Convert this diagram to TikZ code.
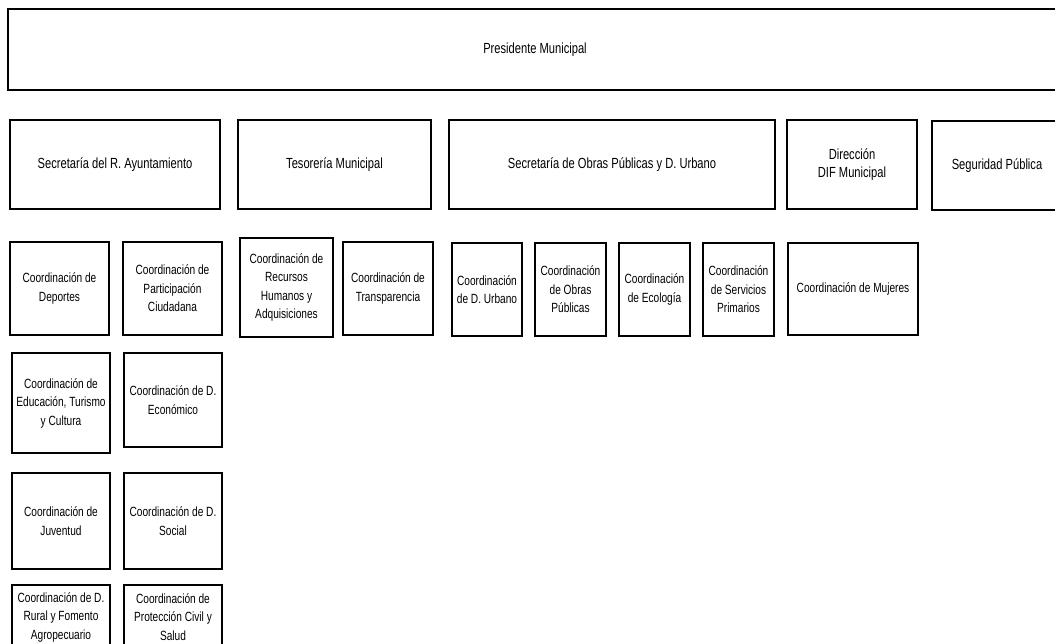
\documentclass[tikz,border=0pt]{standalone}
\usepackage{fontspec}
\setmainfont{Liberation Sans}[FakeStretch=0.76]
\begin{document}
\begin{tikzpicture}[x=0.75pt,y=-0.75pt]
\tikzset{box/.style={draw, line width=0.9pt, align=center, inner sep=0pt, outer sep=0pt,
  font=\fontsize{10}{13.9}\selectfont},
  bigbox/.style={box, font=\fontsize{11}{13.6}\selectfont}}
\newcommand\mybox[7][box]{\node[#1, minimum width={(#5-#3)*0.75pt}, minimum height={(#6-#4)*0.75pt}]
  (#2) at ({(#3+#5)/2},{(#4+#6)/2}) {#7};}
\useasboundingbox[fill=white] (0,0) rectangle (1055,643);
% top
\mybox[bigbox]{pres}{8}{9}{1062}{90}{Presidente Municipal}
% row 2
\mybox[bigbox]{sec}{10}{120}{220}{209}{Secretaría del R. Ayuntamiento}
\mybox[bigbox]{tes}{238}{120}{431}{209}{Tesorería Municipal}
\mybox[bigbox]{obr}{449}{120}{775}{209}{Secretaría de Obras Públicas y D. Urbano}
\mybox[bigbox]{dif}{787}{120}{917}{209}{Dirección\\DIF Municipal}
\mybox[bigbox]{seg}{932}{121}{1062}{210}{Seguridad Pública}
% row 3
\mybox{dep}{10}{242}{109}{335}{Coordinación de\\Deportes}
\mybox{par}{123}{242}{222}{335}{Coordinación de\\Participación\\Ciudadana}
\mybox{rec}{240}{238}{333}{337}{Coordinación de\\Recursos\\Humanos y\\Adquisiciones}
\mybox{tra}{343}{242}{433}{335}{Coordinación de\\Transparencia}
\mybox{urb}{452}{243}{522}{336}{Coordinación\\de D. Urbano}
\mybox{cob}{535}{243}{606}{336}{Coordinación\\de Obras\\Públicas}
\mybox{eco}{619}{243}{690}{336}{Coordinación\\de Ecología}
\mybox{ser}{703}{243}{774}{336}{Coordinación\\de Servicios\\Primarios}
\mybox{muj}{788}{243}{918}{335}{Coordinación de Mujeres}
% row 4
\mybox{edu}{12}{353}{110}{453}{Coordinación de\\Educación, Turismo\\y Cultura}
\mybox{dec}{124}{353}{222}{447}{Coordinación de D.\\Económico}
% row 5
\mybox{juv}{12}{473}{110}{569}{Coordinación de\\Juventud}
\mybox{soc}{124}{473}{222}{569}{Coordinación de D.\\Social}
% row 6
\mybox{rur}{12}{585}{110}{649}{Coordinación de D.\\Rural y Fomento\\Agropecuario}
\mybox{pro}{124}{585}{222}{649}{Coordinación de\\Protección Civil y\\Salud}
\end{tikzpicture}
\end{document}
